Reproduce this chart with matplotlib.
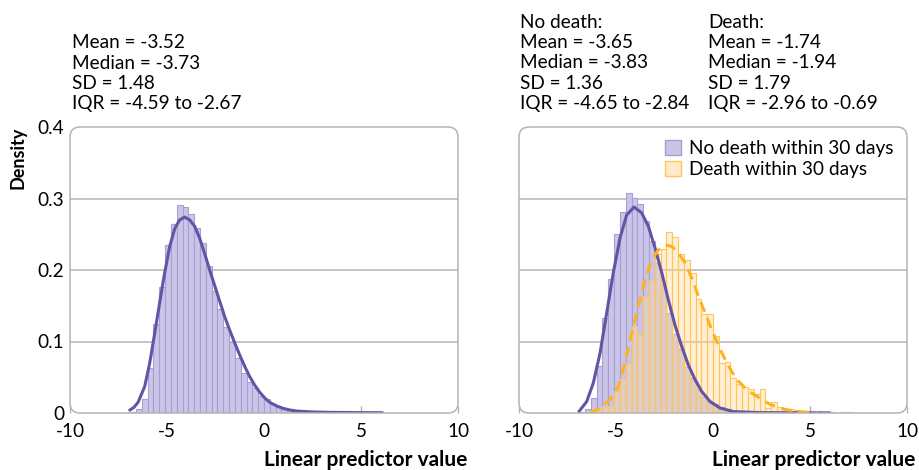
"""Distribution of the linear predictor: overall and by 30-day death."""
import numpy as np
import matplotlib
matplotlib.use("Agg")
import matplotlib.pyplot as plt
import matplotlib.transforms as mtransforms
from matplotlib.patches import FancyBboxPatch, Patch

plt.rcParams.update({
    "font.family": ["Lato", "DejaVu Sans"],
    "font.size": 13.7,
})

# ---- data ----
bin_start = -6.9
bin_width = 0.3

# overall histogram (left panel)
all_heights = [0.002, 0.005, 0.020, 0.063, 0.124, 0.176, 0.235, 0.265, 0.291, 0.288,
               0.279, 0.259, 0.238, 0.205, 0.170, 0.145, 0.120, 0.100, 0.077, 0.056,
               0.043, 0.035, 0.024, 0.019, 0.013, 0.009, 0.0056, 0.0037, 0.0023, 0.0015,
               0.0012, 0.001, 0.0008, 0.0006, 0.0005, 0.0004, 0.0003, 0.0003, 0.0002, 0.0002,
               0.0002]
all_curve_x = [-6.92, -6.70, -6.49, -6.15, -5.89, -5.63, -5.38, -5.12, -4.86, -4.60, -4.35,
               -4.09, -3.83, -3.57, -3.31, -3.06, -2.80, -2.54, -2.28, -2.03, -1.77,
               -1.51, -1.25, -0.99, -0.74, -0.48, -0.22, 0.04, 0.29, 0.64, 0.98,
               1.33, 1.67, 2.53, 3.39, 5.1, 6.1]
all_curve_y = [0.004, 0.008, 0.015, 0.037, 0.070, 0.112, 0.154, 0.196, 0.233, 0.258, 0.270,
               0.274, 0.270, 0.261, 0.244, 0.223, 0.200, 0.178, 0.156, 0.135, 0.116,
               0.098, 0.081, 0.065, 0.051, 0.039, 0.029, 0.021, 0.015, 0.010, 0.0065,
               0.0042, 0.0028, 0.0014, 0.0009, 0.0005, 0.0004]

# no death within 30 days (right panel)
alive_heights = [0.001, 0.005, 0.021, 0.066, 0.133, 0.188, 0.250, 0.281, 0.308, 0.301,
                 0.293, 0.268, 0.241, 0.210, 0.180, 0.140, 0.110, 0.089, 0.065, 0.049,
                 0.033, 0.023, 0.016, 0.012, 0.008, 0.005, 0.003, 0.002, 0.001, 0.0008,
                 0.0005]
alive_curve_x = [-6.91, -6.51, -6.17, -5.82, -5.48, -5.14, -4.79, -4.45, -4.07, -3.68,
                 -3.33, -2.99, -2.64, -2.30, -1.96, -1.61, -1.27, -0.93, -0.58, -0.15,
                 0.36, 1.05, 2.42, 6.03]
alive_curve_y = [0.002, 0.016, 0.042, 0.084, 0.140, 0.196, 0.245, 0.277, 0.288, 0.280,
                 0.261, 0.231, 0.196, 0.158, 0.123, 0.093, 0.067, 0.047, 0.030, 0.016,
                 0.007, 0.002, 0.0005, 0.0002]

# death within 30 days (right panel)
dead_heights = [0.0, 0.0, 0.001, 0.005, 0.010, 0.010, 0.031, 0.048, 0.070, 0.122,
                0.110, 0.164, 0.186, 0.223, 0.229, 0.253, 0.246, 0.223, 0.214, 0.196,
                0.159, 0.138, 0.138, 0.107, 0.070, 0.072, 0.049, 0.041, 0.037, 0.034,
                0.026, 0.033, 0.007, 0.015, 0.008, 0.006, 0.005, 0.004, 0.002, 0.002,
                0.0, 0.0, 0.0, 0.001, 0.0, 0.001, 0.001]
dead_curve_x = [-6.34, -5.82, -5.31, -4.88, -4.54, -4.19, -3.85, -3.51, -3.16, -2.82,
                -2.47, -2.13, -1.79, -1.44, -1.10, -0.76, -0.41, -0.07, 0.27, 0.62,
                0.96, 1.30, 1.65, 1.99, 2.34, 2.68, 3.02, 3.37, 3.71, 4.14,
                4.66, 5.35]
dead_curve_y = [0.0, 0.007, 0.019, 0.037, 0.070, 0.112, 0.149, 0.186, 0.214, 0.228,
                0.235, 0.233, 0.224, 0.210, 0.189, 0.164, 0.140, 0.117, 0.095, 0.075,
                0.058, 0.045, 0.035, 0.028, 0.022, 0.016, 0.011, 0.008, 0.005, 0.003,
                0.0014, 0.0]

left_stats = ["Mean = -3.52", "Median = -3.73", "SD = 1.48", "IQR = -4.59 to -2.67"]
alive_stats = ["No death:", "Mean = -3.65", "Median = -3.83", "SD = 1.36", "IQR = -4.65 to -2.84"]
dead_stats = ["Death:", "Mean = -1.74", "Median = -1.94", "SD = 1.79", "IQR = -2.96 to -0.69"]
legend_labels = ["No death within 30 days", "Death within 30 days"]

x_ticks = [-10, -5, 0, 5, 10]
y_ticks = [0, 0.1, 0.2, 0.3, 0.4]
y_ticklabels = ["0", "0.1", "0.2", "0.3", "0.4"]

# ---- style ----
PURPLE_FILL = "#cac5e6"
PURPLE_EDGE = "#a79ed6"
PURPLE_LINE = "#6454a6"
ORANGE_FILL = (1.0, 0.85, 0.60, 0.42)
ORANGE_EDGE = "#ffc45a"
ORANGE_LINE = "#ffb21e"
FRAME = "#b4b4b4"

W, H = 919, 470
fig = plt.figure(figsize=(W / 100, H / 100), dpi=100)


def fx(px):
    return px / W


def fy(py):
    return 1 - py / H


def edges(heights):
    return bin_start + bin_width * np.arange(len(heights))


def setup(ax, show_y):
    ax.set_xlim(-10, 10)
    ax.set_ylim(0, 0.4)
    for s in ax.spines.values():
        s.set_visible(False)
    ax.set_xticks(x_ticks)
    ax.set_xticklabels([str(t) for t in x_ticks])
    ax.tick_params(axis="x", direction="in", length=5, color=FRAME, width=1, pad=7)
    ax.set_yticks(y_ticks)
    if show_y:
        ax.set_yticklabels(y_ticklabels)
        # lift the "0" label a little so it clears the "-10" below it
        zero = ax.get_yticklabels()[0]
        zero.set_transform(zero.get_transform() +
                           mtransforms.ScaledTranslation(0, 3 / 72, fig.dpi_scale_trans))
    else:
        ax.set_yticklabels([])
    ax.tick_params(axis="y", length=0, pad=4)
    for v in y_ticks[1:-1]:
        ax.axhline(v, color=FRAME, lw=1.1, zorder=0)
    bb = ax.get_position()
    wpx, hpx = bb.width * W, bb.height * H
    frame = FancyBboxPatch((0, 0), 1, 1, boxstyle=f"round,pad=0,rounding_size={10 / wpx}",
                           mutation_aspect=wpx / hpx, transform=ax.transAxes,
                           fill=False, edgecolor=FRAME, lw=1.1, clip_on=False, zorder=5)
    ax.add_patch(frame)


ax1 = fig.add_axes([fx(70), fy(413), 388 / W, 286 / H])
ax2 = fig.add_axes([fx(519), fy(413), 388 / W, 286 / H])
setup(ax1, True)
setup(ax2, False)

# left: all patients
ax1.bar(edges(all_heights), all_heights, width=bin_width, align="edge",
        color=PURPLE_FILL, edgecolor=PURPLE_EDGE, lw=0.8, zorder=2)
ax1.plot(all_curve_x, all_curve_y, color=PURPLE_LINE, lw=2.2, zorder=4,
         solid_capstyle="round")

# right: by outcome
ax2.bar(edges(alive_heights), alive_heights, width=bin_width, align="edge",
        color=PURPLE_FILL, edgecolor=PURPLE_EDGE, lw=0.8, zorder=2)
ax2.bar(edges(dead_heights), dead_heights, width=bin_width, align="edge",
        color=ORANGE_FILL, edgecolor=ORANGE_EDGE, lw=0.8, zorder=3)
ax2.plot(alive_curve_x, alive_curve_y, color=PURPLE_LINE, lw=2.2, zorder=4,
         solid_capstyle="round")
ax2.plot(dead_curve_x, dead_curve_y, color=ORANGE_LINE, lw=2.2, ls=(0, (3.5, 2.2)),
         zorder=4)

handles = [Patch(facecolor=PURPLE_FILL, edgecolor=PURPLE_EDGE),
           Patch(facecolor=(1.0, 0.92, 0.80), edgecolor=ORANGE_EDGE)]
ax2.legend(handles, legend_labels, loc="upper right", frameon=False, fontsize=13.7,
           handlelength=0.8, handleheight=0.8, handletextpad=0.45, labelspacing=0.2,
           borderaxespad=0.3, bbox_to_anchor=(1.0, 1.0))

# summary text
for i, line in enumerate(left_stats):
    fig.text(fx(72), fy(43 + 20.3 * i), line, va="center", ha="left")
for i, line in enumerate(alive_stats):
    fig.text(fx(520), fy(22 + 20.4 * i), line, va="center", ha="left")
for i, line in enumerate(dead_stats):
    fig.text(fx(708), fy(22 + 20.4 * i), line, va="center", ha="left")

fig.text(fx(18), fy(127), "Density", rotation=90, ha="center", va="top",
         fontsize=13, fontweight="bold")
for xr in (467, 915):
    fig.text(fx(xr), fy(460), "Linear predictor value", ha="right", va="center",
             fontsize=15, fontweight="bold",
             family=["Liberation Sans Narrow", "Lato", "DejaVu Sans"])

fig.savefig("out.png", dpi=100)
